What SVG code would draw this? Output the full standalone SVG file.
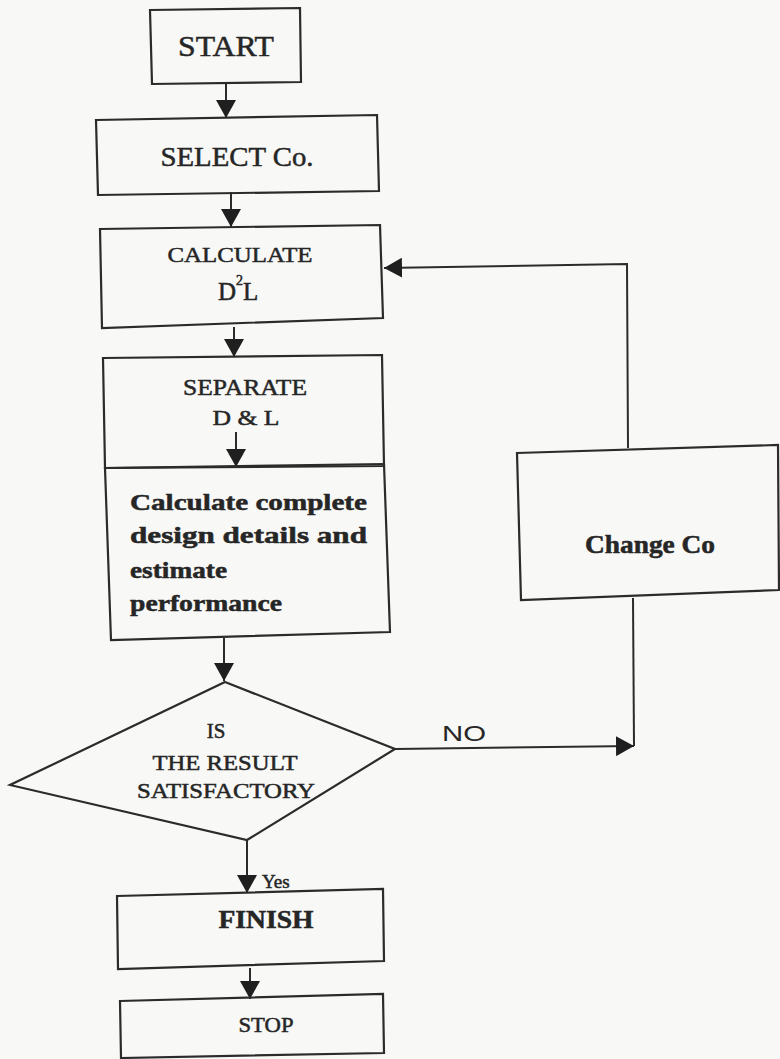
<svg xmlns="http://www.w3.org/2000/svg" width="780" height="1059" viewBox="0 0 780 1059">
<defs>
<style>
.box{fill:none;stroke:#2b2b2b;stroke-width:2.2}
.ln{fill:none;stroke:#2b2b2b;stroke-width:2}
.t{font-family:"Liberation Serif","Times New Roman",serif;fill:#262626;stroke:#262626;stroke-width:0.5}
.b{font-weight:bold}
.m{text-anchor:middle}
.hand{font-family:"Liberation Sans",Arial,sans-serif;fill:#262626}
</style>
<marker id="ah" viewBox="0 0 18 20" refX="18" refY="10" markerWidth="18" markerHeight="20" markerUnits="userSpaceOnUse" orient="auto">
<path d="M0,0 L18,10 L0,20 z" fill="#1f1f1f"/>
</marker>
</defs>
<rect width="780" height="1059" fill="#f8f8f6"/>

<g id="connectors">
<line class="ln" x1="226" y1="82" x2="226" y2="118" marker-end="url(#ah)"/>
<line class="ln" x1="231" y1="192" x2="231" y2="227" marker-end="url(#ah)"/>
<line class="ln" x1="234" y1="327" x2="234" y2="357" marker-end="url(#ah)"/>
<line class="ln" x1="236" y1="432" x2="236" y2="467" marker-end="url(#ah)"/>
<line class="ln" x1="224" y1="638" x2="224" y2="681" marker-end="url(#ah)"/>
<line class="ln" x1="247" y1="840" x2="247" y2="893" marker-end="url(#ah)"/>
<line class="ln" x1="250" y1="968" x2="250" y2="999" marker-end="url(#ah)"/>
<polyline class="ln" points="395,749 634,746" marker-end="url(#ah)"/>
<line class="ln" x1="634" y1="746" x2="633" y2="598"/>
<polyline class="ln" points="628,448 627,264 384,268" marker-end="url(#ah)"/>
<text class="hand" x="442" y="741" font-size="22" textLength="44" lengthAdjust="spacingAndGlyphs">NO</text>
<text class="t" x="262" y="888" font-size="19">Yes</text>
</g>

<g id="start">
<polygon class="box" points="150,10 300,8 301,82 152,84"/>
<text class="t m" x="226" y="56" font-size="29" textLength="96" lengthAdjust="spacingAndGlyphs">START</text>
</g>

<g id="select">
<polygon class="box" points="96,120 377,115 379,191 98,195"/>
<text class="t m" x="237" y="166" font-size="28" textLength="153" lengthAdjust="spacingAndGlyphs">SELECT Co.</text>
</g>

<g id="calculate">
<polygon class="box" points="100,229 380,225 383,318 102,328"/>
<text class="t m" x="240" y="262" font-size="22" textLength="145" lengthAdjust="spacingAndGlyphs">CALCULATE</text>
<text class="t" x="218" y="300" font-size="25">D<tspan font-size="14" dy="-15">2</tspan><tspan dy="15">L</tspan></text>
</g>

<g id="separate">
<polygon class="box" points="103,358 382,355 384,466 105,468"/>
<text class="t m" x="245" y="395" font-size="24" textLength="124" lengthAdjust="spacingAndGlyphs">SEPARATE</text>
<text class="t m" x="246" y="425" font-size="22" textLength="67" lengthAdjust="spacingAndGlyphs">D &amp; L</text>
</g>

<g id="design">
<polygon class="box" points="105,468 384,464 390,632 111,640"/>
<text class="t b" x="130" y="510" font-size="24" textLength="237" lengthAdjust="spacingAndGlyphs">Calculate complete</text>
<text class="t b" x="130" y="543" font-size="24" textLength="237" lengthAdjust="spacingAndGlyphs">design details and</text>
<text class="t b" x="130" y="578" font-size="24" textLength="97" lengthAdjust="spacingAndGlyphs">estimate</text>
<text class="t b" x="130" y="611" font-size="24" textLength="152" lengthAdjust="spacingAndGlyphs">performance</text>
</g>

<g id="decision">
<polygon class="box" points="225,682 395,749 247,840 10,785"/>
<text class="t m" x="216" y="738" font-size="21">IS</text>
<text class="t m" x="225" y="770" font-size="21" textLength="145" lengthAdjust="spacingAndGlyphs">THE RESULT</text>
<text class="t m" x="226" y="798" font-size="21" textLength="178" lengthAdjust="spacingAndGlyphs">SATISFACTORY</text>
</g>

<g id="change">
<polygon class="box" points="517,453 778,445 779,590 521,600"/>
<text class="t b m" x="650" y="553" font-size="25" textLength="130" lengthAdjust="spacingAndGlyphs">Change Co</text>
</g>

<g id="finish">
<polygon class="box" points="117,896 383,889 384,961 118,969"/>
<text class="t b m" x="266" y="928" font-size="25" textLength="95" lengthAdjust="spacingAndGlyphs">FINISH</text>
</g>

<g id="stop">
<polygon class="box" points="120,1001 383,994 384,1053 121,1058"/>
<text class="t m" x="266" y="1032" font-size="22" textLength="55" lengthAdjust="spacingAndGlyphs">STOP</text>
</g>
</svg>
